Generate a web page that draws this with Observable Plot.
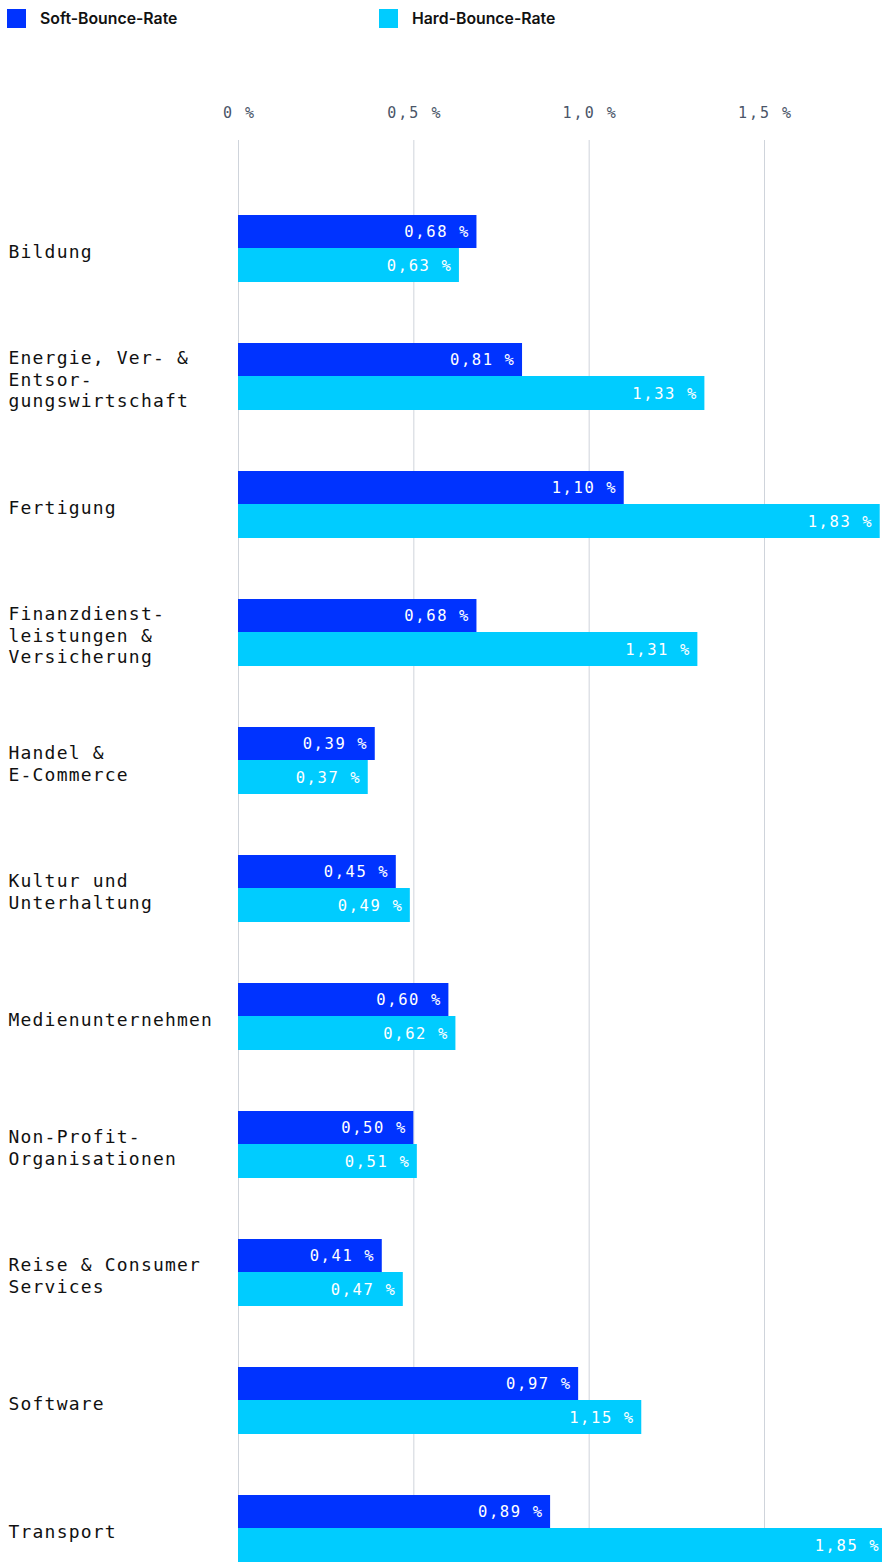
<!DOCTYPE html>
<html>
<head>
<meta charset="utf-8">
<script src="https://cdn.jsdelivr.net/npm/d3@7"></script>
<script src="https://cdn.jsdelivr.net/npm/@observablehq/plot@0.6"></script>
<style>
  html, body { margin: 0; padding: 0; background: #fff; }
  #legend { position: relative; height: 40px; font-family: Inter, "Noto Sans", sans-serif; font-weight: 600; font-size: 15.8px; color: #111; }
  .item { position: absolute; top: 9px; display: flex; align-items: center; height: 19px; }
  .sw { width: 19px; height: 19px; margin-right: 14px; }
  #chart svg { display: block; overflow: hidden; }
  #chart g[aria-label="y-axis tick label"] { letter-spacing: 1.2px; }
  #chart g[aria-label="x-axis tick label"] { letter-spacing: 2px; }
  #chart g[aria-label="text"] { letter-spacing: 1.6px; }
</style>
</head>
<body>
<div id="legend"></div>
<div id="chart"></div>
<script>
// Categories (display labels with line breaks as in the reference)
const categories = ["Bildung", "Energie", "Fertigung", "Finanz", "Handel", "Kultur", "Medien", "NonProfit", "Reise", "Software", "Transport"];
const categoryLabels = [
  "Bildung",
  "Energie, Ver- &\nEntsor-\ngungswirtschaft",
  "Fertigung",
  "Finanzdienst-\nleistungen &\nVersicherung",
  "Handel &\nE-Commerce",
  "Kultur und\nUnterhaltung",
  "Medienunternehmen",
  "Non-Profit-\nOrganisationen",
  "Reise & Consumer\nServices",
  "Software",
  "Transport"
];
const softBounce = [0.68, 0.81, 1.10, 0.68, 0.39, 0.45, 0.60, 0.50, 0.41, 0.97, 0.89];
const hardBounce = [0.63, 1.33, 1.83, 1.31, 0.37, 0.49, 0.62, 0.51, 0.47, 1.15, 1.85];
const seriesNames = ["Soft-Bounce-Rate", "Hard-Bounce-Rate"];
const seriesColors = ["#0033ff", "#00ccff"];
const tickValues = [0, 0.5, 1.0, 1.5];
const tickLabels = ["0 %", "0,5 %", "1,0 %", "1,5 %"];

const data = categories.map((c, i) => ({cat: c, label: categoryLabels[i], soft: softBounce[i], hard: hardBounce[i]}));
const labelOf = new Map(data.map(d => [d.cat, d.label]));
const fmt = v => v.toFixed(2).replace(".", ",") + " %";

// Legend
const legend = document.getElementById("legend");
const lefts = [7, 379];
seriesNames.forEach((n, i) => {
  const it = document.createElement("div");
  it.className = "item";
  it.style.left = lefts[i] + "px";
  it.innerHTML = `<div class="sw" style="background:${seriesColors[i]}"></div><span>${n}</span>`;
  legend.appendChild(it);
});

const mono = "'DejaVu Sans Mono', 'Liberation Mono', monospace";

const chart = Plot.plot({
  width: 882,
  height: 1522,
  marginTop: 100,
  marginBottom: 0,
  marginLeft: 238,
  marginRight: 0,
  style: {fontFamily: mono, background: "#fff", overflow: "hidden"},
  x: {domain: [0, 1.8365], axis: null},
  y: {domain: categories, paddingInner: 0.4766, paddingOuter: 0.293, align: 1, round: false, axis: null},
  marks: [
    Plot.gridX(tickValues, {stroke: "#cfd4db", strokeOpacity: 1, strokeWidth: 1}),
    Plot.axisX(tickValues, {anchor: "top", label: null, tickSize: 0, tickPadding: 23, tickFormat: d => tickLabels[tickValues.indexOf(d)], fontSize: 15, fill: "#4a5568", dx: 1}),
    Plot.axisY({anchor: "left", label: null, tickSize: 0, tickPadding: 230, textAnchor: "start", tickFormat: d => labelOf.get(d), fontSize: 18, lineHeight: 1.22, fill: "#111", dy: 1.5}),
    Plot.barX(data, {x: "soft", y: "cat", fill: seriesColors[0], insetBottom: 34, clip: true}),
    Plot.barX(data, {x: "hard", y: "cat", fill: seriesColors[1], insetTop: 33, clip: true}),
    Plot.text(data, {x: "soft", y: "cat", text: d => fmt(d.soft), textAnchor: "end", dx: -7, dy: -16.5, fill: "#fff", fontSize: 15.5}),
    Plot.text(data, {x: "hard", y: "cat", text: d => fmt(d.hard), textAnchor: "end", dx: -7, dy: 17, fill: "#fff", fontSize: 15.5})
  ]
});
document.getElementById("chart").appendChild(chart);
</script>
</body>
</html>
